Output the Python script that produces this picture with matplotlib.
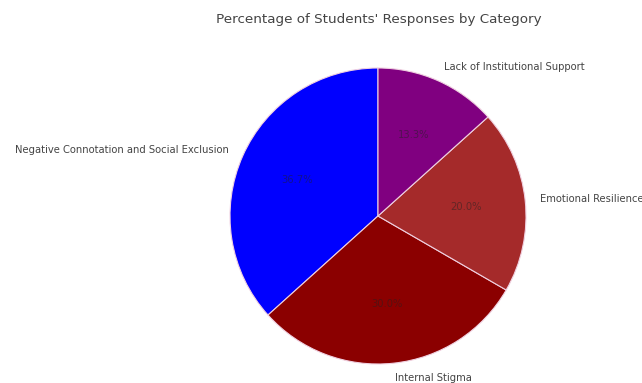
import matplotlib.pyplot as plt

categories = ['Negative Connotation and Social Exclusion', 'Internal Stigma',
              'Emotional Resilience', 'Lack of Institutional Support']
values = [11, 9, 6, 4]
colors = ['blue', 'darkred', 'brown', 'purple']

fig = plt.figure(figsize=(6.42, 3.83), dpi=100)
ax = fig.add_axes([193 / 642, -18 / 383, 370 / 642, 370 / 383])

wedges, texts, autotexts = ax.pie(
    values, labels=categories, colors=colors, startangle=90,
    autopct='%1.1f%%', labeldistance=1.1, pctdistance=0.6,
    wedgeprops={'edgecolor': '#f0d0e0', 'linewidth': 0.8},
    textprops={'fontsize': 7.2, 'color': '#444444'})
for t in autotexts:
    t.set_color('#222222')
    t.set_alpha(0.5)
ax.set_aspect('equal')

fig.text(379 / 642, 1 - 20 / 383, "Percentage of Students' Responses by Category",
         ha='center', va='center', fontsize=9.7, color='#444444')

fig.savefig('out.png', dpi=100)
